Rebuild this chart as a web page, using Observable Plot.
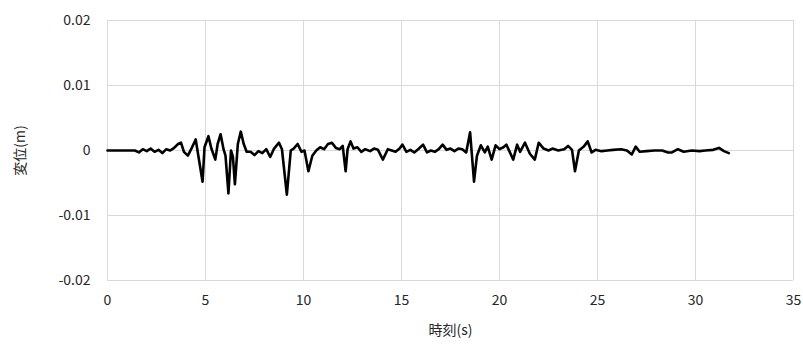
<!DOCTYPE html>
<html>
<head>
<meta charset="utf-8">
<script src="https://cdn.jsdelivr.net/npm/d3@7"></script>
<script src="https://cdn.jsdelivr.net/npm/@observablehq/plot@0.6"></script>
<style>
  html, body { margin: 0; padding: 0; background: #fff; }
  #chart { width: 803px; height: 351px; }
</style>
</head>
<body>
<div id="chart"></div>
<script>
// time (s)
const time = [
  0, 0.5, 1.0, 1.4, 1.6, 1.8, 2.0, 2.2, 2.4, 2.6, 2.8, 3.0, 3.2, 3.4, 3.6, 3.75, 3.9, 4.1, 4.3, 4.5,
  4.85, 4.95, 5.15, 5.3, 5.5, 5.62, 5.77, 5.92, 6.02, 6.17, 6.3, 6.4, 6.5, 6.65, 6.8, 6.95, 7.1,
  7.3, 7.5, 7.7, 7.9, 8.1, 8.3, 8.5, 8.75, 8.9, 9.15, 9.35, 9.5, 9.7, 9.9, 10.05, 10.25, 10.45,
  10.65, 10.85, 11.05, 11.25, 11.45, 11.65, 11.85, 12.0, 12.15, 12.25, 12.4, 12.55, 12.75, 12.95,
  13.15, 13.4, 13.6, 13.8, 14.05, 14.3, 14.5, 14.7, 14.9, 15.05, 15.25, 15.45, 15.65, 15.85, 16.1,
  16.3, 16.5, 16.7, 16.9, 17.1, 17.3, 17.5, 17.7, 17.9, 18.1, 18.3, 18.5, 18.7, 18.85, 19.05, 19.25,
  19.4, 19.6, 19.8, 20.0, 20.2, 20.35, 20.7, 20.9, 21.05, 21.3, 21.55, 21.8, 22.0, 22.25, 22.5,
  22.7, 23.0, 23.3, 23.5, 23.7, 23.85, 24.05, 24.3, 24.5, 24.7, 24.9, 25.2, 25.5, 25.8, 26.2, 26.5,
  26.75, 26.95, 27.15, 27.5, 27.9, 28.3, 28.6, 28.8, 29.1, 29.4, 29.8, 30.2, 30.5, 30.9, 31.2,
  31.45, 31.7
];
// displacement (m)
const disp = [
  0, 0, 0, 0, -0.0003, 0.0002, -0.0001, 0.0003, -0.0002, 0.0001, -0.0004, 0.0002, 0.0000, 0.0004, 0.0010, 0.0012, -0.0002, -0.0008, 0.0004, 0.0017,
  -0.0048, 0.0005, 0.0022, 0.0003, -0.0014, 0.0010, 0.0025, 0.0002, -0.0008, -0.0066, 0.0000, -0.0010, -0.0052, 0.0010, 0.0029, 0.0010, -0.0002,
  -0.0002, -0.0007, -0.0001, -0.0004, 0.0002, -0.0010, 0.0003, 0.0012, 0.0002, -0.0068, 0.0000, 0.0003, 0.0010, -0.0002, 0.0000, -0.0032, -0.0008,
  0.0000, 0.0005, 0.0002, 0.0010, 0.0012, 0.0004, 0.0002, 0.0007, -0.0032, 0.0002, 0.0014, 0.0003, 0.0005, -0.0002,
  0.0002, -0.0001, 0.0003, 0.0001, -0.0014, 0.0002, 0.0000, -0.0002, 0.0003, 0.0009, -0.0002, 0.0001, -0.0003, 0.0002, 0.0009,
  -0.0003, 0.0000, -0.0002, 0.0002, 0.0009, 0.0001, 0.0003, -0.0001, 0.0003, 0.0002, -0.0003, 0.0028, -0.0048, -0.0008, 0.0008, -0.0003,
  0.0006, -0.0014, 0.0008, 0.0002, 0.0005, 0.0009, -0.0014, 0.0009, -0.0002, 0.0012, -0.0005, -0.0014, 0.0012, 0.0003, 0.0000,
  0.0003, 0.0000, 0.0002, 0.0007, 0.0001, -0.0032, 0.0000, 0.0006, 0.0014, -0.0003, 0.0001, -0.0001, 0.0000, 0.0001, 0.0002, 0.0000,
  -0.0006, 0.0006, -0.0002, -0.0001, 0.0000, 0.0000, -0.0003, -0.0003, 0.0002, -0.0002, 0.0000, -0.0001, 0.0000, 0.0001, 0.0004,
  -0.0001, -0.0004
];
const xTicks = [0, 5, 10, 15, 20, 25, 30, 35];
const yTicks = [-0.02, -0.01, 0, 0.01, 0.02];
const xTitle = "時刻(s)";
const yTitle = "変位(m)";

const data = time.map((t, i) => ({t, v: disp[i]}));

const chart = Plot.plot({
  width: 803,
  height: 351,
  marginLeft: 107,
  marginRight: 10,
  marginTop: 20,
  marginBottom: 71,
  style: {fontFamily: "'Noto Sans CJK JP', 'Noto Sans', sans-serif", fontSize: "14px", color: "#262626", background: "#fff"},
  x: {domain: [0, 35], ticks: xTicks},
  y: {domain: [-0.02, 0.02], ticks: yTicks},
  marks: [
    Plot.ruleX(xTicks, {stroke: "#d9d9d9", strokeWidth: 1}),
    Plot.ruleY(yTicks, {stroke: "#d9d9d9", strokeWidth: 1}),
    Plot.axisX({ticks: xTicks, tickSize: 0, tickPadding: 15, label: xTitle, labelAnchor: "center", labelArrow: "none", labelOffset: 54, fontSize: 14}),
    Plot.axisY({ticks: yTicks, tickSize: 0, tickPadding: 17, tickFormat: d => d === 0 ? "0" : d.toFixed(2), label: yTitle, labelAnchor: "center", labelArrow: "none", labelOffset: 92, fontSize: 14}),
    Plot.line(data, {x: "t", y: "v", stroke: "#000", strokeWidth: 2.6, strokeLinejoin: "round"})
  ]
});
document.getElementById("chart").appendChild(chart);
</script>
</body>
</html>
